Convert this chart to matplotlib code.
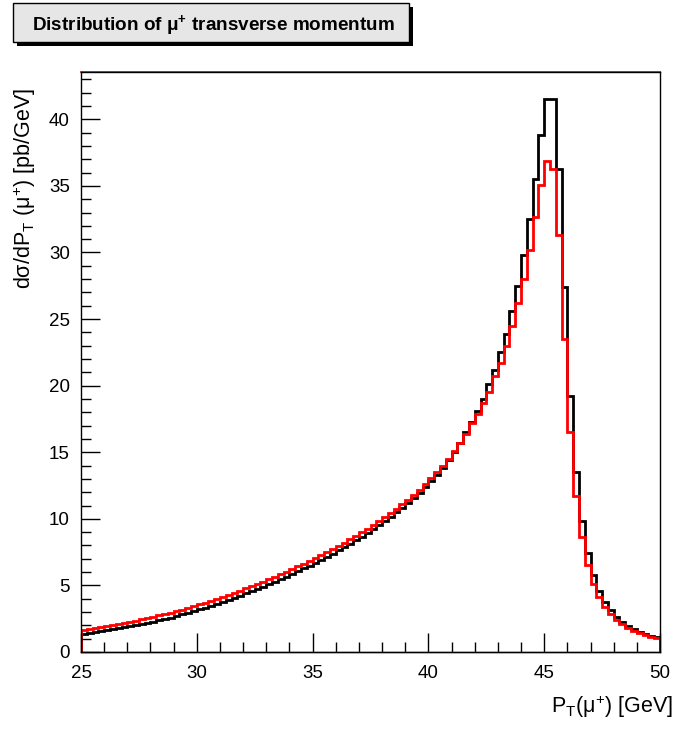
import numpy as np
import matplotlib
matplotlib.use("Agg")
import matplotlib.pyplot as plt
from matplotlib.patches import Rectangle
from matplotlib.ticker import MultipleLocator

plt.rcParams['font.family'] = ['Liberation Sans', 'DejaVu Sans']
plt.rcParams['mathtext.fontset'] = 'custom'
plt.rcParams['mathtext.rm'] = 'Liberation Sans'
plt.rcParams['mathtext.it'] = 'Liberation Sans'
plt.rcParams['mathtext.bf'] = 'Liberation Sans:bold'

# histogram binning: 100 bins of 0.25 GeV from 25 to 50 GeV
pt_lo, pt_hi, n_bins = 25.0, 50.0, 100

# black histogram
black = [1.38, 1.44, 1.50, 1.57, 1.64, 1.71, 1.78, 1.86, 1.94, 2.02,
         2.10, 2.19, 2.28, 2.38, 2.48, 2.59, 2.70, 2.82, 2.94, 3.07,
         3.20, 3.34, 3.48, 3.63, 3.78, 3.93, 4.08, 4.24, 4.40, 4.56,
         4.73, 4.90, 5.08, 5.27, 5.46, 5.66, 5.86, 6.07, 6.28, 6.49,
         6.71, 6.93, 7.16, 7.39, 7.63, 7.87, 8.12, 8.38, 8.65, 8.93,
         9.22, 9.52, 9.83, 10.15, 10.48, 10.82, 11.18, 11.56, 11.96, 12.38,
         12.82, 13.29, 13.85, 14.40, 15.00, 15.70,
         16.5, 17.3, 18.1, 19.0, 20.1, 21.2, 22.5, 23.9, 25.6, 27.5,
         29.8, 32.5, 35.5, 38.8, 41.5, 41.5, 36.3, 27.4, 19.2, 13.5,
         9.8, 7.4, 5.8, 4.6, 3.78, 3.15, 2.65, 2.28, 1.97, 1.73,
         1.52, 1.35, 1.22, 1.10]

# red histogram
red = [1.63, 1.70, 1.77, 1.85, 1.93, 2.01, 2.09, 2.18, 2.27, 2.36,
       2.45, 2.55, 2.65, 2.75, 2.85, 2.96, 3.07, 3.19, 3.31, 3.44,
       3.57, 3.71, 3.85, 4.00, 4.15, 4.30, 4.45, 4.61, 4.77, 4.93,
       5.10, 5.27, 5.45, 5.63, 5.82, 6.02, 6.22, 6.42, 6.63, 6.84,
       7.06, 7.28, 7.51, 7.74, 7.98, 8.22, 8.47, 8.72, 8.99, 9.26,
       9.54, 9.83, 10.13, 10.44, 10.76, 11.09, 11.44, 11.81, 12.20, 12.61,
       13.03, 13.48, 13.98, 14.50, 15.06, 15.70,
       16.4, 17.2, 17.9, 18.7, 19.5, 20.7, 21.7, 23.0, 24.5, 26.2,
       28.0, 30.2, 32.7, 35.1, 36.9, 36.25, 31.3, 23.5, 16.5, 11.7,
       8.6, 6.5, 5.1, 4.15, 3.4, 2.85, 2.4, 2.08, 1.83, 1.6,
       1.45, 1.28, 1.15, 1.03]

title = r'Distribution of $\mathregular{\mu^{+}}$ transverse momentum'
xlabel = r'$\mathregular{P_{T}(\mu^{+})}$ [GeV]'
ylabel = r'd$\mathregular{\sigma}$/d$\mathregular{P_{T}}$ ($\mathregular{\mu^{+}}$) [pb/GeV]'

edges = np.linspace(pt_lo, pt_hi, n_bins + 1)
W, H = 699, 730

fig = plt.figure(figsize=(6.99, 7.30), dpi=100)
ax = fig.add_axes([81/W, 1 - 652/H, 579/W, 580/H])

ax.stairs(black, edges, color='black', lw=2)
ax.stairs(red, edges, color='#ff0000', lw=2)

ax.set_xlim(pt_lo, pt_hi)
ax.set_ylim(0, 43.55)

ax.xaxis.set_major_locator(MultipleLocator(5))
ax.xaxis.set_minor_locator(MultipleLocator(1))
ax.yaxis.set_major_locator(MultipleLocator(5))
ax.yaxis.set_minor_locator(MultipleLocator(1))
ax.tick_params(which='both', direction='in', top=False, right=False,
               labelsize=13.5, width=1)
ax.tick_params(which='major', length=14)
ax.tick_params(which='minor', length=7)
ax.tick_params(axis='x', pad=9)
ax.tick_params(axis='y', pad=8)

for s in ax.spines.values():
    s.set_linewidth(1)
ax.axhline(43.55, color='#ff0000', lw=1.2, clip_on=False)
ax.axhline(0, color='#cc0000', lw=1, clip_on=False)

# axis titles, ROOT style (right / top aligned)
fig.text(673/W, 1 - 713/H, xlabel, ha='right', va='baseline', fontsize=15.5)
fig.text(25/W, 1 - 88/H, ylabel, ha='center', va='top', rotation=90,
         fontsize=15.5)

# title box with shadow
fig.patches.append(Rectangle((17/W, 1 - 46/H), 396/W, 39/H, transform=fig.transFigure,
                             facecolor='black', edgecolor='none'))
fig.patches.append(Rectangle((13/W, 1 - 42/H), 396/W, 39/H, transform=fig.transFigure,
                             facecolor='#e6e6e6', edgecolor='black', lw=1))
fig.text(213/W, 1 - 25/H, title, ha='center', va='center', fontsize=13.6,
         fontweight='bold')

fig.savefig('out.png', dpi=100)
